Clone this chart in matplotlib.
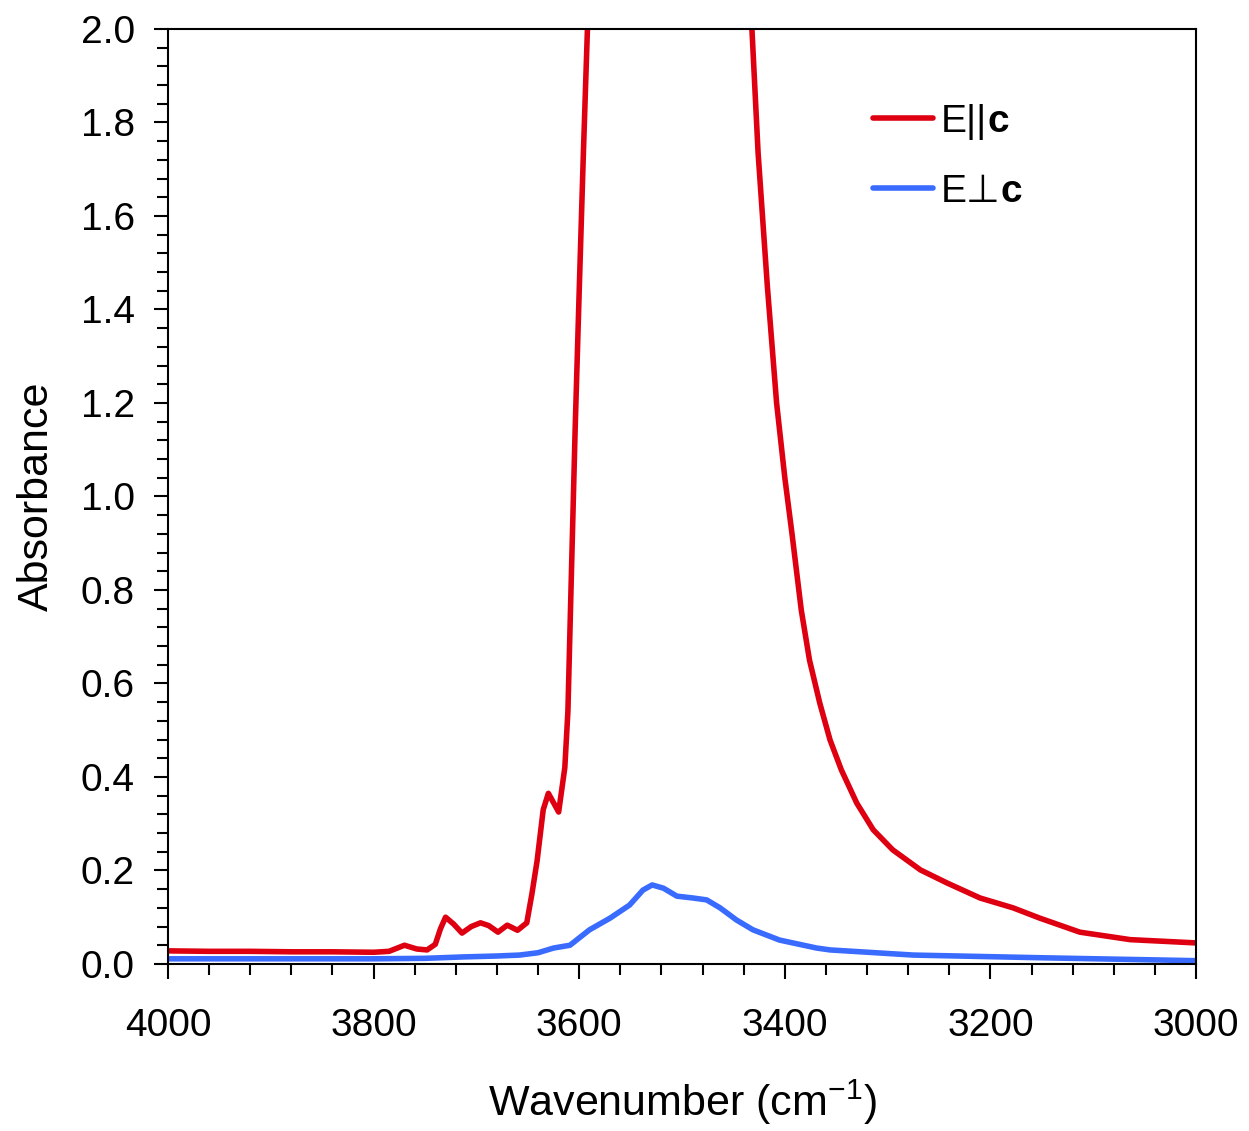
import matplotlib
matplotlib.use("Agg")
import matplotlib.pyplot as plt
from matplotlib.ticker import MultipleLocator

plt.rcParams['font.family'] = ['Liberation Sans', 'DejaVu Sans']
plt.rcParams['mathtext.fontset'] = 'custom'
plt.rcParams['mathtext.rm'] = 'Liberation Sans'
plt.rcParams['mathtext.bf'] = 'Liberation Sans:bold'

# E parallel c spectrum (wavenumber in cm-1, absorbance); the main O-H band runs off scale
wn_par = [4000, 3960, 3920, 3880, 3840, 3800, 3785, 3770, 3758, 3748, 3740,
          3735, 3730, 3722, 3714, 3705, 3696, 3688, 3679, 3670, 3660, 3651,
          3646, 3641, 3635, 3630, 3625, 3620, 3614, 3611, 3608, 3604, 3600,
          3596, 3592, 3585, 3520, 3445, 3432, 3426, 3417, 3408, 3400, 3393,
          3384, 3376, 3366, 3356, 3345, 3330, 3314, 3295, 3268, 3242, 3210,
          3178, 3152, 3113, 3064, 3000]
abs_par = [0.028, 0.027, 0.027, 0.026, 0.026, 0.025, 0.027, 0.040, 0.032, 0.030, 0.042,
           0.075, 0.100, 0.085, 0.066, 0.080, 0.088, 0.082, 0.068, 0.083, 0.072, 0.088,
           0.150, 0.220, 0.330, 0.365, 0.345, 0.325, 0.420, 0.540, 0.800, 1.140, 1.440,
           1.730, 2.000, 2.300, 3.500, 2.300, 2.000, 1.735, 1.450, 1.200, 1.040, 0.920,
           0.757, 0.650, 0.558, 0.479, 0.415, 0.344, 0.287, 0.244, 0.201, 0.173, 0.141,
           0.120, 0.098, 0.068, 0.052, 0.045]

# E perpendicular c spectrum
wn_perp = [4000, 3900, 3800, 3750, 3713, 3680, 3658, 3640, 3625, 3609, 3590,
           3570, 3551, 3538, 3529, 3518, 3505, 3489, 3476, 3463, 3447, 3431,
           3405, 3369, 3356, 3275, 3145, 3000]
abs_perp = [0.011, 0.011, 0.011, 0.012, 0.015, 0.017, 0.019, 0.024, 0.034, 0.040, 0.073,
            0.098, 0.126, 0.158, 0.169, 0.162, 0.145, 0.141, 0.137, 0.120, 0.094, 0.073,
            0.051, 0.034, 0.030, 0.019, 0.013, 0.007]

RED = '#DE0010'
BLUE = '#3A6BFF'

fig = plt.figure(figsize=(12.49, 11.31), dpi=100)
ax = fig.add_axes([0.1345, 0.1477, 0.8231, 0.8267])

ax.plot(wn_par, abs_par, color=RED, lw=4.0, solid_joinstyle='round',
        solid_capstyle='round', label='E||')
ax.plot(wn_perp, abs_perp, color=BLUE, lw=4.0, solid_joinstyle='round',
        solid_capstyle='round', label='E⊥')

ax.set_xlim(4000, 3000)
ax.set_ylim(0, 2.0)
ax.xaxis.set_major_locator(MultipleLocator(200))
ax.xaxis.set_minor_locator(MultipleLocator(40))
ax.yaxis.set_major_locator(MultipleLocator(0.2))
ax.yaxis.set_minor_locator(MultipleLocator(0.04))
ax.yaxis.set_major_formatter(plt.FuncFormatter(lambda v, p: f'{v:.1f}'))

ax.tick_params(axis='both', which='both', direction='out', width=1.5,
               labelsize=28, top=False, right=False)
ax.tick_params(axis='x', which='major', length=11, pad=21)
ax.tick_params(axis='x', which='minor', length=8)
ax.tick_params(axis='y', which='major', length=10, pad=14)
ax.tick_params(axis='y', which='minor', length=8)
for s in ax.spines.values():
    s.set_linewidth(1.5)

ax.set_xlabel('Wavenumber (cm$^{\\mathregular{-1}}$)', fontsize=31, labelpad=24)
ax.set_ylabel('Absorbance', fontsize=31, labelpad=17)

leg = ax.legend(loc='upper left', bbox_to_anchor=(0.686, 0.920), fontsize=28,
                frameon=False, handlelength=1.54, handletextpad=0.2,
                labelspacing=0.88, borderpad=0, borderaxespad=0)

# bold "c" appended to each legend entry
fig.canvas.draw()
for t in leg.get_texts():
    bb = t.get_window_extent()
    x0, y0 = t.get_transform().transform(t.get_position())
    fig.text(bb.x1 / fig.bbox.width, y0 / fig.bbox.height, 'c',
             fontsize=28, fontweight='bold', ha='left', va='baseline')

fig.savefig('out.png', dpi=100)
